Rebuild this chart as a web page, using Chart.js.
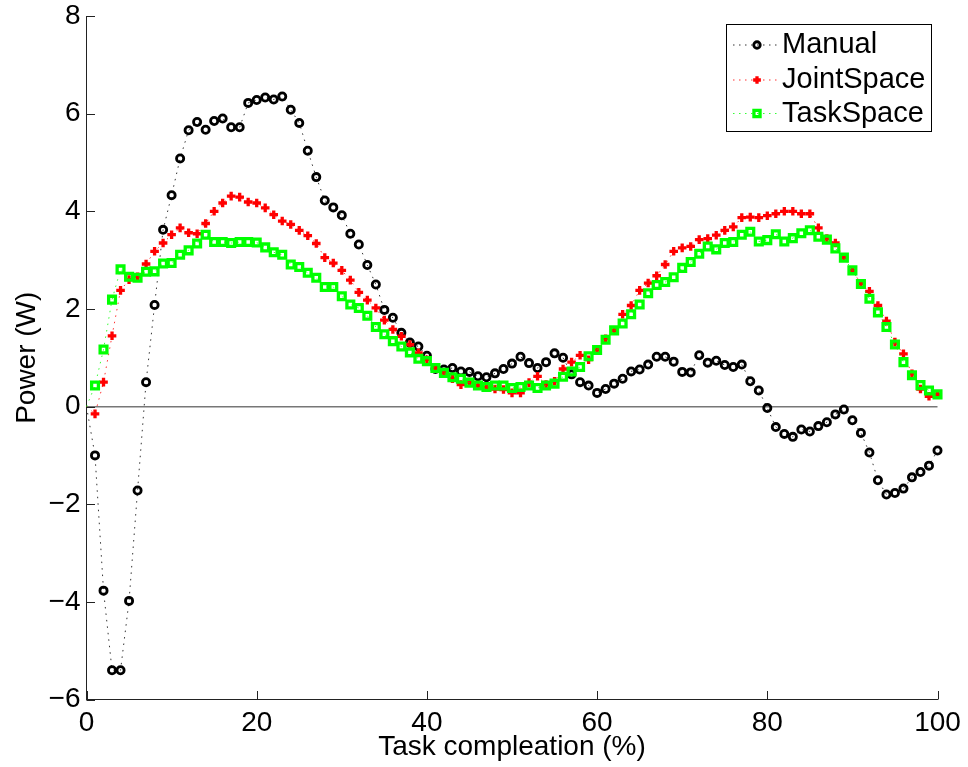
<!DOCTYPE html>
<html>
<head>
<meta charset="utf-8">
<script src="https://cdn.jsdelivr.net/npm/chart.js@4.4.0/dist/chart.umd.min.js"></script>
<style>
html,body{margin:0;padding:0;background:#fff;}
#wrap{width:968px;height:767px;position:relative;}
</style>
</head>
<body>
<div id="wrap"><canvas id="c" width="968" height="767"></canvas></div>
<script>
const taskCompletion = [0,1,2,3,4,5,6,7,8,9,10,11,12,13,14,15,16,17,18,19,20,21,22,23,24,25,26,27,28,29,30,31,32,33,34,35,36,37,38,39,40,41,42,43,44,45,46,47,48,49,50,51,52,53,54,55,56,57,58,59,60,61,62,63,64,65,66,67,68,69,70,71,72,73,74,75,76,77,78,79,80,81,82,83,84,85,86,87,88,89,90,91,92,93,94,95,96,97,98,99,100];

const manualPower = [0,-1.0,-3.77,-5.4,-5.4,-3.98,-1.72,0.5,2.08,3.62,
  4.33,5.08,5.66,5.83,5.67,5.85,5.9,5.72,5.72,6.22,
  6.28,6.33,6.29,6.35,6.08,5.81,5.24,4.7,4.22,4.08,
  3.92,3.54,3.32,2.9,2.5,1.98,1.82,1.51,1.31,1.23,
  1.04,0.77,0.76,0.79,0.72,0.71,0.62,0.60,0.68,0.77,
  0.88,1.02,0.89,0.79,0.91,1.09,1.0,0.66,0.50,0.43,
  0.28,0.36,0.47,0.57,0.72,0.76,0.86,1.02,1.02,0.92,
  0.71,0.70,1.05,0.90,0.94,0.85,0.81,0.86,0.52,0.33,
  -0.03,-0.42,-0.56,-0.62,-0.47,-0.51,-0.40,-0.32,-0.16,-0.06,
  -0.28,-0.54,-0.94,-1.51,-1.80,-1.77,-1.68,-1.45,-1.34,-1.21,
  -0.90];

const jointSpacePower = [0,-0.15,0.5,1.45,2.38,2.6,2.66,2.92,3.18,3.35,
  3.52,3.66,3.56,3.54,3.75,4.0,4.17,4.31,4.29,4.19,
  4.17,4.07,3.93,3.80,3.73,3.61,3.50,3.34,3.05,2.94,
  2.79,2.59,2.34,2.18,2.02,1.77,1.58,1.44,1.27,1.10,
  0.96,0.79,0.69,0.57,0.45,0.50,0.43,0.40,0.36,0.35,
  0.28,0.28,0.49,0.62,0.45,0.52,0.77,0.91,1.05,0.96,
  1.16,1.39,1.56,1.89,2.07,2.38,2.53,2.68,2.91,3.18,
  3.25,3.28,3.42,3.44,3.51,3.61,3.68,3.87,3.88,3.87,
  3.91,3.95,4.0,4.0,3.95,3.95,3.66,3.44,3.35,3.05,
  2.79,2.52,2.36,2.07,1.75,1.32,1.08,0.67,0.36,0.21,
  0.25];

const taskSpacePower = [0,0.43,1.17,2.19,2.81,2.66,2.64,2.76,2.77,2.93,
  2.94,3.11,3.20,3.34,3.52,3.37,3.37,3.35,3.37,3.37,
  3.36,3.26,3.16,3.11,2.91,2.86,2.74,2.64,2.45,2.45,
  2.26,2.09,2.02,1.86,1.63,1.48,1.34,1.23,1.11,0.98,
  0.93,0.79,0.69,0.60,0.57,0.49,0.43,0.40,0.43,0.43,
  0.38,0.40,0.43,0.38,0.43,0.47,0.61,0.72,0.81,1.03,
  1.16,1.37,1.56,1.70,1.89,2.09,2.32,2.49,2.55,2.65,
  2.84,2.96,3.13,3.28,3.22,3.35,3.37,3.52,3.58,3.38,
  3.41,3.53,3.38,3.45,3.55,3.61,3.48,3.42,3.24,3.05,
  2.79,2.51,2.21,1.93,1.63,1.27,0.91,0.64,0.44,0.33,
  0.25];

const seriesNames = ['Manual', 'JointSpace', 'TaskSpace'];
const xTickValues = [0, 20, 40, 60, 80, 100];
const yTickValues = [-6, -4, -2, 0, 2, 4, 6, 8];
const xTitle = 'Task compleation (%)';
const yTitle = 'Power (W)';

const FONT = '"Liberation Sans", Arial, Helvetica, sans-serif';

function toPoints(values) {
  return taskCompletion.map((x, i) => ({x: x, y: values[i]}));
}
const hideFirst = (r) => (ctx) => ctx.dataIndex === 0 ? 0 : r;

const markerSize = {circle: 3.6, cross: 4.3, rect: 4.8};

const datasets = [
  {
    label: seriesNames[0],
    data: toPoints(manualPower),
    borderColor: 'rgba(0,0,0,0.8)',
    borderWidth: 1,
    borderDash: [1.5, 5],
    pointStyle: 'circle',
    pointRadius: hideFirst(markerSize.circle),
    pointBorderWidth: 2.8,
    pointBorderColor: '#000000',
    pointBackgroundColor: 'rgba(0,0,0,0)',
    order: 2
  },
  {
    label: seriesNames[1],
    data: toPoints(jointSpacePower),
    borderColor: 'rgba(255,0,0,0.8)',
    borderWidth: 1,
    borderDash: [1.5, 5],
    pointStyle: 'cross',
    pointRadius: hideFirst(markerSize.cross),
    pointBorderWidth: 3.3,
    pointBorderColor: '#ff0000',
    pointBackgroundColor: 'rgba(0,0,0,0)',
    order: 1
  },
  {
    label: seriesNames[2],
    data: toPoints(taskSpacePower),
    borderColor: 'rgba(0,255,0,0.8)',
    borderWidth: 1,
    borderDash: [1.5, 5],
    pointStyle: 'rect',
    pointRadius: hideFirst(markerSize.rect),
    pointBorderWidth: 3.3,
    pointBorderColor: '#00ff00',
    pointBackgroundColor: 'rgba(0,0,0,0)',
    order: 0
  }
];

const inwardTicks = {
  id: 'inwardTicks',
  afterDatasetsDraw(chart) {
    const {ctx, chartArea: a, scales: {x, y}} = chart;
    ctx.save();
    ctx.strokeStyle = '#222';
    ctx.lineWidth = 1;
    ctx.beginPath();
    xTickValues.forEach(v => {
      const px = Math.round(x.getPixelForValue(v)) + 0.5;
      ctx.moveTo(px, a.bottom);
      ctx.lineTo(px, a.bottom - 8.5);
    });
    yTickValues.forEach(v => {
      const py = Math.round(y.getPixelForValue(v)) + 0.5;
      ctx.moveTo(a.left, py);
      ctx.lineTo(a.left + 8.5, py);
    });
    ctx.stroke();
    ctx.restore();
  }
};

const boxedLegend = {
  id: 'boxedLegend',
  afterDraw(chart) {
    const ctx = chart.ctx;
    const L = 726.5, T = 24.5, R = 931.5, B = 131.5;
    const rows = [45, 80, 113.5];
    ctx.save();
    ctx.fillStyle = '#fff';
    ctx.fillRect(L, T, R - L, B - T);
    ctx.strokeStyle = '#000';
    ctx.lineWidth = 1;
    ctx.strokeRect(L, T, R - L, B - T);
    chart.data.datasets.forEach((ds, i) => {
      const cy = rows[i];
      ctx.save();
      ctx.strokeStyle = ds.borderColor;
      ctx.lineWidth = 1;
      ctx.setLineDash([1.5, 4.5]);
      ctx.beginPath();
      ctx.moveTo(733, cy);
      ctx.lineTo(777, cy);
      ctx.stroke();
      ctx.restore();
      ctx.save();
      ctx.strokeStyle = ds.pointBorderColor;
      ctx.fillStyle = 'rgba(0,0,0,0)';
      ctx.lineWidth = ds.pointBorderWidth;
      const r = markerSize[ds.pointStyle] * 0.9;
      Chart.helpers.drawPoint(ctx, {pointStyle: ds.pointStyle, rotation: 0, radius: r, borderWidth: ds.pointBorderWidth}, 757, cy);
      ctx.restore();
      ctx.fillStyle = '#000';
      ctx.font = '29px ' + FONT;
      ctx.textAlign = 'left';
      ctx.textBaseline = 'middle';
      ctx.fillText(ds.label, 782, cy);
    });
    ctx.restore();
  }
};

new Chart(document.getElementById('c'), {
  type: 'line',
  data: {datasets: datasets},
  plugins: [inwardTicks, boxedLegend],
  options: {
    responsive: false,
    devicePixelRatio: 1,
    animation: false,
    events: [],
    clip: false,
    layout: {padding: {top: 16, right: 30.5, left: 0, bottom: 0}},
    elements: {line: {tension: 0, fill: false}},
    plugins: {legend: {display: false}, tooltip: {enabled: false}},
    datasets: {line: {clip: false}},
    scales: {
      x: {
        type: 'linear',
        min: 0, max: 100,
        afterBuildTicks: s => { s.ticks = xTickValues.map(v => ({value: v})); },
        afterFit: s => { s.height = 67.5; s.paddingLeft = 0; s.paddingRight = 0; },
        grid: {display: false, drawTicks: false},
        border: {display: true, color: '#222', width: 1},
        ticks: {
          color: '#000',
          padding: 10,
          maxRotation: 0,
          autoSkip: false,
          font: {family: FONT, size: 28, lineHeight: 1}
        },
        title: {
          display: true,
          text: xTitle,
          color: '#000',
          font: {family: FONT, size: 28, lineHeight: 1.2},
          padding: {top: 0, bottom: 3}
        }
      },
      y: {
        type: 'linear',
        min: -6, max: 8,
        afterBuildTicks: s => { s.ticks = yTickValues.map(v => ({value: v})); },
        afterFit: s => { s.width = 86.5; s.paddingTop = 0; s.paddingBottom = 0; },
        grid: {
          display: true,
          drawTicks: false,
          color: c => (c.tick && c.tick.value === 0) ? '#777' : 'rgba(0,0,0,0)',
          lineWidth: c => (c.tick && c.tick.value === 0) ? 1.5 : 0
        },
        border: {display: true, color: '#222', width: 1},
        ticks: {
          color: '#000',
          padding: 6,
          autoSkip: false,
          font: {family: FONT, size: 28, lineHeight: 1},
          callback: v => v < 0 ? '\u2212' + Math.abs(v) : String(v)
        },
        title: {
          display: true,
          text: yTitle,
          color: '#000',
          font: {family: FONT, size: 28, lineHeight: 1.2},
          padding: {top: 10, bottom: 10}
        }
      }
    }
  }
});
</script>
</body>
</html>
